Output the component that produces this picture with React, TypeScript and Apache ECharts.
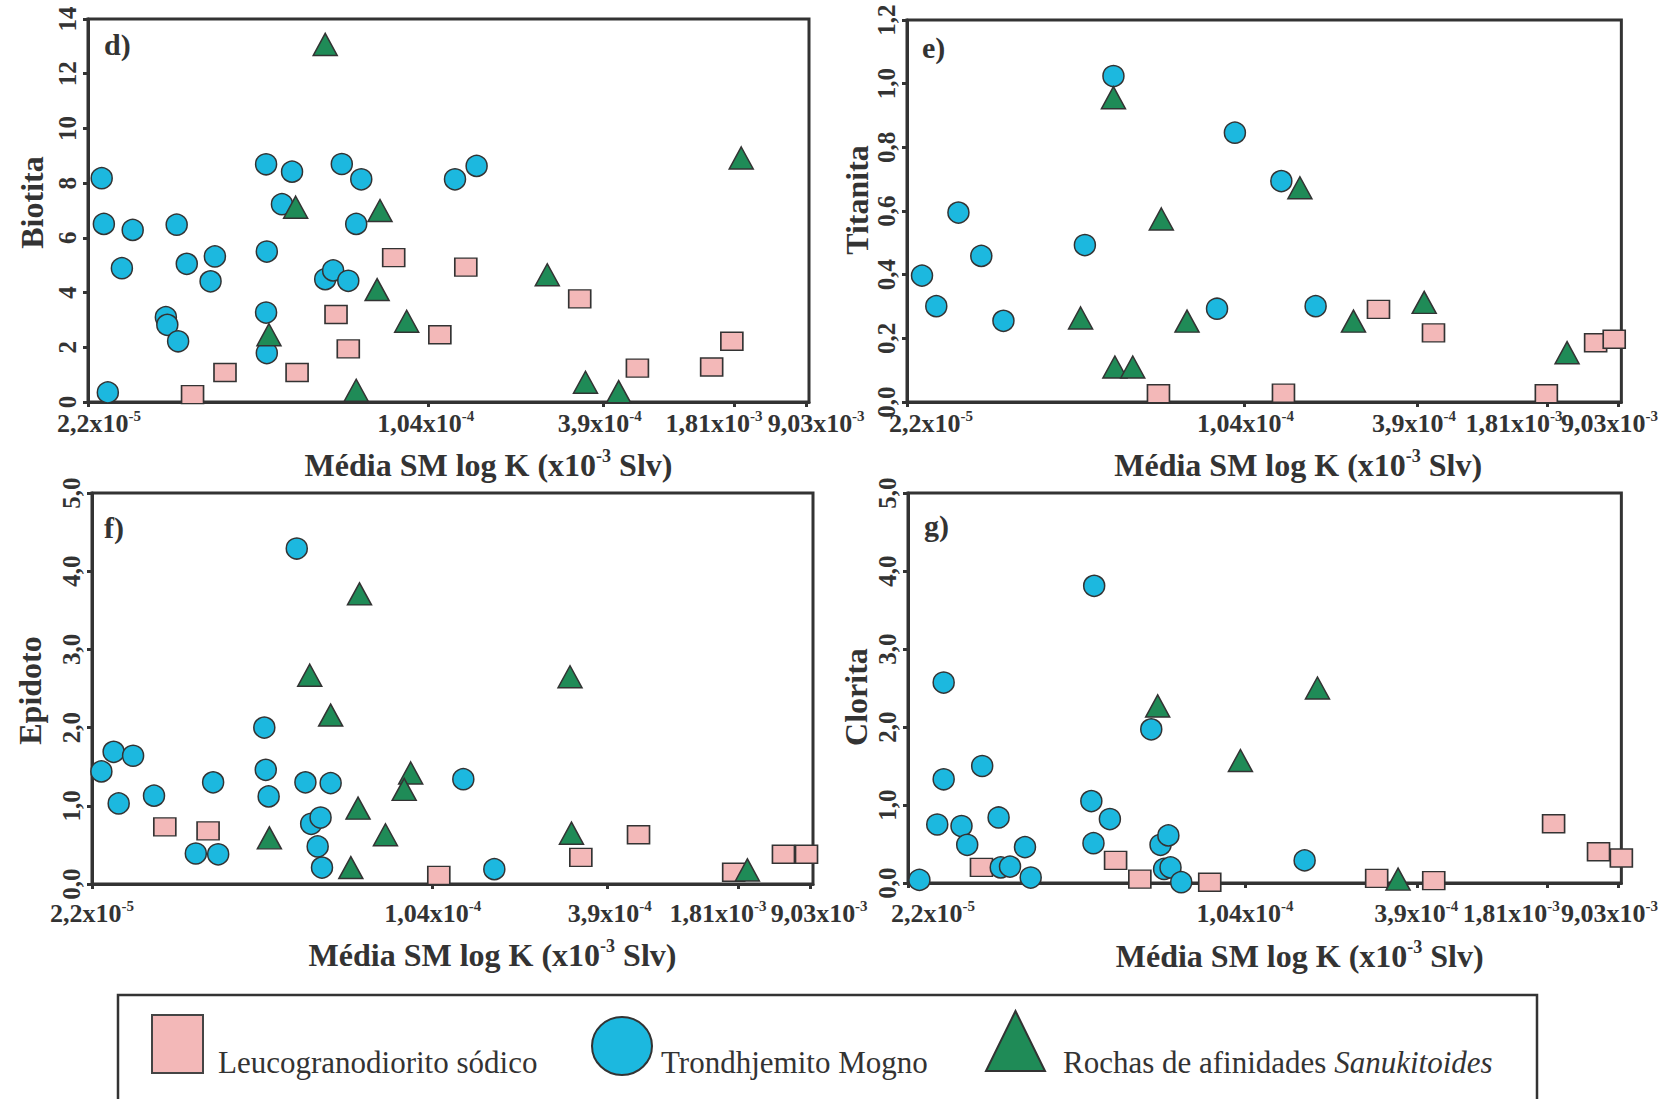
import React, { useEffect, useRef } from "react";
import * as echarts from "echarts";

// ---------- shared x axis (non-uniform K scale, positions in % of axis length) ----------
const xTickValues = [0, 47.25, 71.4, 89.6, 99.6];
const xTickMantissa = ["2,2x10", "1,04x10", "3,9x10", "1,81x10", "9,03x10"];
const xTickExponent = ["-5", "-4", "-4", "-3", "-3"];

const seriesNames = ["Leucogranodiorito sódico", "Trondhjemito Mogno", "Rochas de afinidades Sanukitoides"];

// ---------- d) Biotita ----------
const biotitaLeuco = [[14.5, 0.27], [19.0, 1.08], [29.0, 1.08], [34.4, 3.2], [36.1, 1.94], [42.4, 5.28], [48.8, 2.46], [52.4, 4.93], [68.2, 3.77], [76.2, 1.24], [86.5, 1.28], [89.3, 2.22]];
const biotitaTrond = [[1.9, 8.18], [2.2, 6.51], [2.75, 0.35], [4.7, 4.89], [6.2, 6.29], [10.8, 3.1], [11.0, 2.82], [12.3, 6.48], [12.5, 2.22], [13.7, 5.05], [17.0, 4.41], [17.6, 5.32], [24.7, 8.69], [24.7, 3.27], [24.8, 5.5], [24.8, 1.79], [26.9, 7.23], [28.3, 8.42], [32.9, 4.49], [34.0, 4.81], [35.2, 8.7], [36.1, 4.43], [37.2, 6.51], [37.9, 8.14], [50.9, 8.14], [53.9, 8.63]];
const biotitaSanuk = [[32.9, 13.07], [28.8, 7.12], [40.5, 7.0], [40.1, 4.11], [44.2, 2.95], [25.1, 2.46], [37.2, 0.43], [63.7, 4.65], [69.0, 0.72], [73.6, 0.38], [90.6, 8.92]];

// ---------- e) Titanita ----------
const titanitaLeuco = [[35.2, 0.026], [52.7, 0.028], [66.0, 0.291], [73.7, 0.217], [89.5, 0.026], [96.4, 0.186], [99.0, 0.197]];
const titanitaTrond = [[2.1, 0.397], [4.1, 0.301], [7.2, 0.595], [10.4, 0.459], [13.5, 0.255], [24.9, 0.493], [28.9, 1.024], [43.4, 0.293], [45.9, 0.846], [52.4, 0.694], [57.2, 0.301]];
const titanitaSanuk = [[28.9, 0.956], [24.3, 0.264], [29.1, 0.11], [31.6, 0.11], [35.6, 0.575], [39.2, 0.254], [55.0, 0.673], [62.5, 0.254], [72.4, 0.313], [92.4, 0.155]];

// ---------- f) Epidoto ----------
const epidotoLeuco = [[10.1, 0.73], [16.1, 0.68], [48.1, 0.11], [67.8, 0.34], [75.8, 0.63], [89.0, 0.15], [95.9, 0.38], [99.1, 0.38]];
const epidotoTrond = [[1.3, 1.44], [3.0, 1.69], [3.7, 1.03], [5.7, 1.64], [8.6, 1.13], [14.4, 0.39], [16.8, 1.3], [17.5, 0.38], [23.9, 2.0], [24.1, 1.46], [24.5, 1.12], [28.4, 4.29], [29.6, 1.3], [30.4, 0.77], [31.3, 0.48], [31.7, 0.85], [31.9, 0.21], [33.1, 1.29], [51.5, 1.34], [55.8, 0.19]];
const epidotoSanuk = [[30.2, 2.67], [37.1, 3.71], [33.1, 2.16], [66.3, 2.65], [44.2, 1.42], [43.3, 1.21], [36.9, 0.97], [24.6, 0.59], [40.7, 0.63], [66.5, 0.65], [35.9, 0.21], [90.9, 0.18]];

// ---------- g) Clorita ----------
const cloritaLeuco = [[10.3, 0.2], [29.1, 0.29], [32.5, 0.05], [42.3, 0.01], [65.7, 0.06], [73.7, 0.03], [90.5, 0.76], [96.8, 0.4], [100, 0.32]];
const cloritaTrond = [[1.6, 0.04], [4.1, 0.75], [5.0, 2.57], [5.0, 1.33], [7.5, 0.73], [8.3, 0.49], [10.4, 1.5], [12.7, 0.84], [13.0, 0.2], [14.3, 0.21], [16.4, 0.46], [17.2, 0.07], [25.7, 1.05], [26.0, 0.51], [26.1, 3.81], [28.3, 0.82], [34.1, 1.97], [35.4, 0.49], [35.9, 0.18], [36.5, 0.61], [36.8, 0.2], [38.3, 0.01], [55.6, 0.29]];
const cloritaSanuk = [[35.0, 2.27], [57.4, 2.5], [46.6, 1.57], [68.7, 0.05]];

// ---------- styling ----------
const FONT = '"Liberation Serif", "Times New Roman", serif';
const INK = "#333";
const COLORS = ["#f3b8b8", "#1cb8df", "#1f8b57"];
const SYMBOLS = ["rect", "circle", "triangle"];
const SIZES: any[] = [[22, 18], 21, [24, 22]];

const panels = [
  {
    letter: "d)", name: "Biotita", max: 14, interval: 2, decimals: 0,
    data: [biotitaLeuco, biotitaTrond, biotitaSanuk],
    grid: { left: 88, top: 19, width: 721, height: 383 },
    yNameGap: 40, yNamePad: [0, 0, 0, 16], xNameGap: 45, xNamePad: 80, xLabelMargin: 6,
    shifts: [11, -3, -3, -20, 10], letterPos: [104, 44],
  },
  {
    letter: "e)", name: "Titanita", max: 1.2, interval: 0.2, decimals: 1,
    data: [titanitaLeuco, titanitaTrond, titanitaSanuk],
    grid: { left: 907, top: 20, width: 725, height: 382 },
    yNameGap: 34, yNamePad: [0, 0, 0, 22], xNameGap: 45, xNamePad: 68, xLabelMargin: 6,
    shifts: [24, 1, -3, -33, -9], letterPos: [922, 47],
  },
  {
    letter: "f)", name: "Epidoto", max: 5, interval: 1, decimals: 1,
    data: [epidotoLeuco, epidotoTrond, epidotoSanuk],
    grid: { left: 92, top: 493, width: 721, height: 391 },
    yNameGap: 46, yNamePad: [0, 4, 0, 0], xNameGap: 53, xNamePad: 80, xLabelMargin: 14,
    shifts: [0, 0, 3, -20, 9], letterPos: [104, 527],
  },
  {
    letter: "g)", name: "Clorita", max: 5, interval: 1, decimals: 1,
    data: [cloritaLeuco, cloritaTrond, cloritaSanuk],
    grid: { left: 908, top: 493, width: 724, height: 390 },
    yNameGap: 36, yNamePad: [0, 18, 0, 0], xNameGap: 55, xNamePad: 70, xLabelMargin: 15,
    shifts: [25, 0, -1, -36, -9], letterPos: [924, 525],
  },
];

function nearestTick(v: number) {
  let idx = 0;
  let best = Infinity;
  xTickValues.forEach((t, i) => {
    const d = Math.abs(t - v);
    if (d < best) { best = d; idx = i; }
  });
  return idx;
}

function buildOption() {
  const grid: any[] = [];
  const xAxis: any[] = [];
  const overlayAxes: any[] = [];
  const yAxis: any[] = [];
  const series: any[] = [];
  const graphic: any[] = [];

  panels.forEach((p, i) => {
    grid.push({ ...p.grid, show: true, borderColor: INK, borderWidth: 3, backgroundColor: "transparent" });

    const rich: any = {};
    p.shifts.forEach((s, k) => {
      rich["b" + k] = {
        fontSize: 26, fontWeight: "bold", fontFamily: FONT, color: INK, lineHeight: 30,
        padding: [0, 0, 0, s > 0 ? 2 * s : 0],
      };
      rich["e" + k] = {
        fontSize: 15, fontWeight: "bold", fontFamily: FONT, color: INK, lineHeight: 15,
        verticalAlign: "top", padding: [0, s < 0 ? -2 * s : 0, 0, 0],
      };
    });
    const labelBase = {
      show: true, margin: p.xLabelMargin, rich,
      fontSize: 26, fontWeight: "bold", fontFamily: FONT, color: INK,
      showMinLabel: true, showMaxLabel: true, hideOverlap: false,
      formatter: (v: number) => {
        const k = nearestTick(v);
        return `{b${k}|${xTickMantissa[k]}}{e${k}|${xTickExponent[k]}}`;
      },
    };

    xAxis.push({
      gridIndex: i, type: "value", min: 0, max: 100, position: "bottom",
      axisLine: { show: true, onZero: false, lineStyle: { color: INK, width: 3 } },
      axisTick: { show: true, customValues: xTickValues, length: 5, lineStyle: { color: INK, width: 3 } },
      axisLabel: { ...labelBase, customValues: xTickValues.slice(0, 4) },
      splitLine: { show: false },
      name: "{n|Média SM log K (x10}{s|-3}{n| Slv)}",
      nameLocation: "middle",
      nameGap: p.xNameGap,
      nameTextStyle: {
        padding: [0, 0, 0, p.xNamePad],
        fontSize: 32, fontWeight: "bold", fontFamily: FONT, color: INK,
        rich: {
          n: { fontSize: 32, fontWeight: "bold", fontFamily: FONT, color: INK, lineHeight: 36 },
          s: { fontSize: 18, fontWeight: "bold", fontFamily: FONT, color: INK, lineHeight: 18, verticalAlign: "top" },
        },
      },
    });

    // overlay axis carrying only the last tick label, so it is not hidden by overlap rules
    overlayAxes.push({
      gridIndex: i, type: "value", min: 0, max: 100, position: "bottom",
      axisLine: { show: false, onZero: false },
      axisTick: { show: false },
      axisLabel: { ...labelBase, customValues: xTickValues.slice(4) },
      splitLine: { show: false },
    });

    yAxis.push({
      gridIndex: i, type: "value", min: 0, max: p.max, interval: p.interval,
      axisLine: { show: true, onZero: false, lineStyle: { color: INK, width: 3 } },
      axisTick: { show: true, length: 5, lineStyle: { color: INK, width: 3 } },
      axisLabel: {
        rotate: 90, margin: 8, fontSize: 25, fontWeight: "bold", fontFamily: FONT, color: INK,
        showMinLabel: true, showMaxLabel: true,
        formatter: (v: number) => v.toFixed(p.decimals).replace(".", ","),
      },
      splitLine: { show: false },
      name: p.name, nameLocation: "middle", nameRotate: 90, nameGap: p.yNameGap,
      nameTextStyle: { fontSize: 32, fontWeight: "bold", fontFamily: FONT, color: INK, padding: p.yNamePad },
    });

    p.data.forEach((d, s) => {
      series.push({
        type: "scatter", name: seriesNames[s], xAxisIndex: i, yAxisIndex: i, data: d,
        symbol: SYMBOLS[s], symbolSize: SIZES[s], clip: false,
        itemStyle: { color: COLORS[s], borderColor: INK, borderWidth: 1.5, opacity: 1 },
        emphasis: { disabled: true },
      });
    });

    graphic.push({
      type: "text", x: p.letterPos[0], y: p.letterPos[1],
      style: { text: p.letter, fontSize: 30, fontWeight: "bold", fontFamily: FONT, fill: INK, verticalAlign: "middle", align: "left" },
    });
  });

  // legend box
  graphic.push({ type: "rect", shape: { x: 118, y: 995, width: 1419, height: 140 }, style: { fill: "none", stroke: INK, lineWidth: 2.5 } });
  graphic.push({ type: "rect", shape: { x: 152, y: 1015, width: 51, height: 58 }, style: { fill: COLORS[0], stroke: "#444", lineWidth: 2 } });
  graphic.push({ type: "ellipse", shape: { cx: 622, cy: 1046, rx: 30, ry: 29 }, style: { fill: COLORS[1], stroke: "#333", lineWidth: 2 } });
  graphic.push({ type: "polygon", shape: { points: [[1015.5, 1011], [986, 1071], [1045, 1071]] }, style: { fill: COLORS[2], stroke: "#333", lineWidth: 2 } });
  const legendText = (x: number, text: string) => ({
    type: "text", x, y: 1062,
    style: {
      text, verticalAlign: "middle", align: "left",
      rich: {
        n: { fontSize: 31, fontFamily: FONT, fill: INK },
        i: { fontSize: 31, fontFamily: FONT, fill: INK, fontStyle: "italic" },
      },
    },
  });
  graphic.push(legendText(218, `{n|${seriesNames[0]}}`));
  graphic.push(legendText(661, `{n|${seriesNames[1]}}`));
  graphic.push(legendText(1063, "{n|Rochas de afinidades }{i|Sanukitoides}"));

  return {
    animation: false,
    backgroundColor: "#ffffff",
    textStyle: { fontFamily: FONT },
    grid,
    xAxis: [...xAxis, ...overlayAxes],
    yAxis,
    series,
    graphic,
  };
}

export default function App() {
  const ref = useRef<HTMLDivElement>(null);
  useEffect(() => {
    if (!ref.current) return;
    const chart = echarts.init(ref.current, undefined, { renderer: "svg" });
    chart.setOption(buildOption() as any);
    return () => chart.dispose();
  }, []);
  return <div ref={ref} style={{ position: "absolute", left: 0, top: 0, width: 1679, height: 1099, background: "#fff" }} />;
}
